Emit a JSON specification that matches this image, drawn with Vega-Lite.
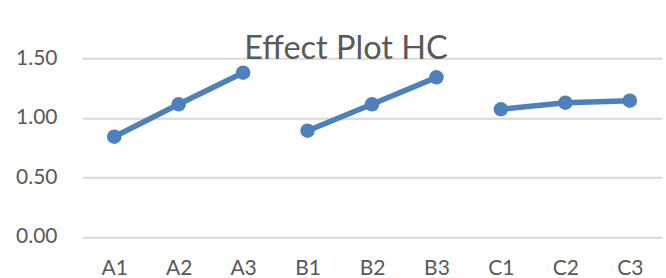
{
  "$schema": "https://vega.github.io/schema/vega-lite/v6.json",
  "autosize": {"type": "none"},
  "width": 580,
  "height": 178.5,
  "padding": {"left": 82, "top": 58.2, "right": 4, "bottom": 41.3},
  "background": "white",
  "title": {
    "text": "Effect Plot HC",
    "font": "Lato",
    "fontSize": 32.5,
    "fontWeight": "normal",
    "color": "#595959",
    "anchor": "middle",
    "frame": "group",
    "baseline": "alphabetic",
    "offset": -44,
    "dx": -26
  },
  "data": {
    "values": [
      {"level": "A1", "group": "A", "effect": 0.84},
      {"level": "A2", "group": "A", "effect": 1.113},
      {"level": "A3", "group": "A", "effect": 1.378},
      {"level": "B1", "group": "B", "effect": 0.891},
      {"level": "B2", "group": "B", "effect": 1.113},
      {"level": "B3", "group": "B", "effect": 1.339},
      {"level": "C1", "group": "C", "effect": 1.071},
      {"level": "C2", "group": "C", "effect": 1.126},
      {"level": "C3", "group": "C", "effect": 1.143}
    ]
  },
  "encoding": {
    "x": {
      "field": "level",
      "type": "ordinal",
      "sort": null,
      "scale": {"type": "point", "padding": 0.5},
      "axis": {
        "title": null,
        "domain": false,
        "ticks": false,
        "grid": false,
        "labelAngle": 0,
        "labelFont": "Lato",
        "labelFontSize": 21,
        "labelColor": "#595959",
        "labelBaseline": "alphabetic",
        "labelPadding": 38
      }
    },
    "y": {
      "field": "effect",
      "type": "quantitative",
      "scale": {"domain": [0, 1.5], "nice": false, "zero": true},
      "axis": {
        "title": null,
        "domain": false,
        "ticks": false,
        "values": [0, 0.5, 1, 1.5],
        "format": ".2f",
        "grid": true,
        "gridColor": "#d9d9d9",
        "gridWidth": 2,
        "labelFont": "Lato",
        "labelFontSize": 21,
        "labelColor": "#595959",
        "labelPadding": 25
      }
    },
    "detail": {"field": "group", "type": "nominal"}
  },
  "layer": [
    {"mark": {"type": "line", "color": "#4E80BD", "strokeWidth": 5.5}},
    {"mark": {"type": "point", "filled": true, "opacity": 1, "color": "#4E80BD", "size": 210}}
  ],
  "config": {"view": {"stroke": null}}
}
